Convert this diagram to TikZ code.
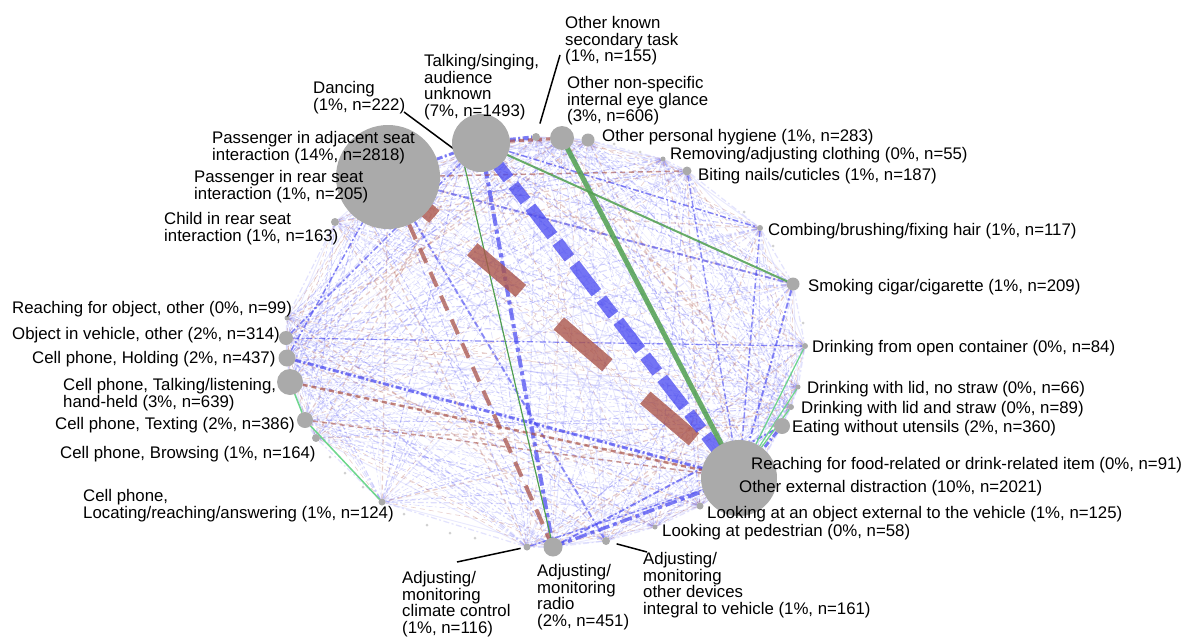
\documentclass[tikz,border=0pt]{standalone}
\usepackage{fontspec}
\setmainfont{Liberation Sans}
\usetikzlibrary{positioning}
\pgfdeclarelayer{edges}
\pgfsetlayers{edges,main}

\definecolor{nodegray}{RGB}{170,170,170}
\definecolor{edgeblue}{RGB}{70,70,240}
\definecolor{edgebrown}{RGB}{170,85,75}
\definecolor{edgegreen}{RGB}{80,160,80}
\definecolor{lightgreen}{RGB}{110,215,140}

\tikzset{
  distnode/.style={circle,fill=nodegray,inner sep=0pt,outer sep=0pt},
  tinydot/.style={circle,fill=nodegray!55,inner sep=0pt,minimum size=3pt},
  lbl/.style={font=\fontsize{16.8}{16.8}\selectfont,inner sep=0pt,anchor=base west},
  mlbl/.style={font=\fontsize{16.8}{16.8}\selectfont,inner sep=0pt,anchor=north west,align=left},
  leader/.style={draw=black,line width=1.5pt},
  bluedd/.style={draw=edgeblue,dash pattern=on 6pt off 2.5pt on 2pt off 2.5pt},
  browndash/.style={draw=edgebrown,dash pattern=on 5pt off 4pt},
  greenline/.style={draw=edgegreen}
}

\def\distlist{talking,otherknown,othernonspec,hygiene,removing,biting,combing,smoking,drinkopen,drinknostraw,drinkstraw,eating,reachfood,otherext,lookobject,pedestrian,otherdev,radio,climate,locating,browsing,texting,celltalk,holding,object,reachobject,child,passrear,passadj,dancing}

\begin{document}
\begin{tikzpicture}[x=1pt,y=-1pt]
  \useasboundingbox (0,0) rectangle (1185,637);

  % distraction types, placed on an ellipse, size ~ n
  \node[distnode,minimum size=10pt] (dancing) at (462,155) {};
  \node[distnode,minimum size=58pt] (talking) at (481,143) {};
  \node[distnode,minimum size=8pt] (otherknown) at (536,137) {};
  \node[distnode,minimum size=24pt] (othernonspec) at (562,138) {};
  \node[distnode,minimum size=13pt] (hygiene) at (588,140) {};
  \node[distnode,minimum size=5pt] (removing) at (663,159) {};
  \node[distnode,minimum size=9pt] (biting) at (687,171) {};
  \node[distnode,minimum size=6pt] (combing) at (760,228) {};
  \node[distnode,minimum size=13pt] (smoking) at (793,284) {};
  \node[distnode,minimum size=6pt] (drinkopen) at (805,346) {};
  \node[distnode,minimum size=5pt] (drinknostraw) at (798,387) {};
  \node[distnode,minimum size=6pt] (drinkstraw) at (791,407) {};
  \node[distnode,minimum size=16pt] (eating) at (782,426) {};
  \node[distnode,minimum size=8pt] (reachfood) at (758,468) {};
  \node[distnode,minimum size=76pt] (otherext) at (739,478) {};
  \node[distnode,minimum size=7pt] (lookobject) at (700,506) {};
  \node[distnode,minimum size=5pt] (pedestrian) at (655,527) {};
  \node[distnode,minimum size=8pt] (otherdev) at (606,541) {};
  \node[distnode,minimum size=19pt] (radio) at (553,547) {};
  \node[distnode,minimum size=7pt] (climate) at (527,547) {};
  \node[distnode,minimum size=7pt] (locating) at (382,502) {};
  \node[distnode,minimum size=8pt] (browsing) at (316,438) {};
  \node[distnode,minimum size=16pt] (texting) at (305,420) {};
  \node[distnode,minimum size=26pt] (celltalk) at (290,382) {};
  \node[distnode,minimum size=17pt] (holding) at (287,358) {};
  \node[distnode,minimum size=14pt] (object) at (286,338) {};
  \node[distnode,minimum size=5pt] (reachobject) at (287,318) {};
  \node[distnode,minimum size=8pt] (child) at (335,222) {};
  \node[distnode,minimum size=12pt] (passrear) at (362,205) {};
  \node[distnode,minimum size=104pt] (passadj) at (388,177) {};

  % small unlabelled ones
  \foreach \x/\y [count=\k] in {614/144,640/152,744/212,773/246,803/323,404/514,
      427/525,450/533,475/538,330/457,345/473,363/487}
    \node[tinydot] (u\k) at (\x,\y) {};

  \begin{pgfonlayer}{edges}
    % faint links between every pair
    \foreach \a [count=\i] in \distlist {
      \foreach \b [count=\j] in \distlist {
        \ifnum\i<\j
          \pgfmathtruncatemacro\pick{mod(\i*7+\j*11,6)}
          \pgfmathsetmacro\lw{0.35+0.3*mod(\i*5+\j*3,4)}
          \ifcase\pick
            \draw[bluedd,line width=\lw pt,draw opacity=.25] (\a) -- (\b);
          \or
            \draw[bluedd,line width=\lw pt,draw opacity=.18] (\a) -- (\b);
          \or
            \draw[bluedd,line width=\lw pt,draw opacity=.3] (\a) -- (\b);
          \or
            \draw[browndash,line width=\lw pt,draw opacity=.28] (\a) -- (\b);
          \or
            \draw[draw=edgeblue,line width=\lw pt,draw opacity=.12] (\a) -- (\b);
          \else
            \draw[bluedd,line width=\lw pt,draw opacity=.15] (\a) -- (\b);
          \fi
        \fi
      }
    }

    % stronger links
    \draw[bluedd,line width=1.5pt,draw opacity=.6] (talking) -- (combing);
    \draw[bluedd,line width=1.5pt,draw opacity=.6] (biting) -- (otherext);
    \draw[bluedd,line width=1.5pt,draw opacity=.6] (combing) -- (otherext);
    \draw[bluedd,line width=2pt,draw opacity=.6] (smoking) -- (otherext);
    \draw[bluedd,line width=2pt,draw opacity=.6] (passadj) -- (smoking);
    \draw[bluedd,line width=2pt,draw opacity=.6] (passadj) -- (otherdev);
    \draw[bluedd,line width=1.2pt,draw opacity=.6] (object) -- (drinkopen);
    \draw[bluedd,line width=1.5pt,draw opacity=.6] (object) -- (talking);
    \draw[bluedd,line width=1.5pt,draw opacity=.6] (holding) -- (passadj);
    \draw[bluedd,line width=1.5pt,draw opacity=.6] (climate) -- (otherext);
    \draw[bluedd,line width=2pt,draw opacity=.65] (radio) -- (eating);
    \draw[bluedd,line width=3pt,draw opacity=.7] (holding) -- (otherext);
    \draw[bluedd,line width=3pt,draw opacity=.7] (eating) -- (otherext);
    \draw[bluedd,line width=3pt,draw opacity=.7] (passadj) -- (talking);
    \draw[bluedd,line width=4pt,draw opacity=.7] (talking) -- (otherknown);
    \draw[bluedd,line width=3.5pt,draw opacity=.7,dash pattern=on 12pt off 4pt on 4pt off 4pt] (radio.center) -- (otherext.center);
    \draw[bluedd,line width=4pt,draw opacity=.7,dash pattern=on 12pt off 4pt on 4pt off 4pt] (talking.center) -- (radio.center);
    \draw[browndash,line width=1.5pt,draw opacity=.6] (passadj) -- (biting);
    \draw[browndash,line width=1.5pt,draw opacity=.6] (texting) -- (otherext);
    \draw[browndash,line width=2.5pt,draw opacity=.7] (celltalk) -- (otherext);
    \draw[browndash,line width=3pt,draw opacity=.7] (talking) -- (othernonspec);
    \draw[browndash,line width=4pt,draw opacity=.75,dash pattern=on 16pt off 10pt] (passadj.center) -- (radio.center);
    \draw[lightgreen,line width=1.5pt] (celltalk) -- (texting);
    \draw[lightgreen,line width=1.5pt] (texting) -- (locating);
    \draw[lightgreen,line width=1.2pt] (drinkopen) -- (otherext);
    \draw[lightgreen,line width=1.2pt] (drinknostraw) -- (otherext);
    \draw[lightgreen,line width=1.2pt] (drinkstraw) -- (otherext);
    \draw[greenline,line width=1.2pt] (dancing.center) -- (radio.center);
    \draw[greenline,line width=2pt,draw opacity=.85] (talking.center) -- (smoking.center);

    % the three heaviest links
    \draw[browndash,line width=16pt,draw opacity=.8,dash pattern=on 64pt off 50pt,dash phase=3pt] (passadj.center) -- (otherext.center);
    \draw[bluedd,line width=12pt,draw opacity=.75,dash pattern=on 36pt off 8pt on 20pt off 8pt,dash phase=63pt] (talking.center) -- (otherext.center);
    \draw[greenline,line width=5pt,draw opacity=.85] (othernonspec.center) -- (otherext.center);

    % leader lines
    \coordinate (dancetip) at (404,112);
    \coordinate (knowntip) at (560,55);
    \coordinate (climatetip) at (457,562);
    \coordinate (devtip) at (647,552);
    \draw[leader] (dancetip) -- (dancing);
    \draw[leader,shorten >=10pt] (knowntip) -- (otherknown);
    \draw[leader,shorten >=3pt] (climatetip) -- (climate);
    \draw[leader,shorten >=7pt] (devtip) -- (otherdev);
  \end{pgfonlayer}

  % labels
  \node[mlbl] (l-known) at (565,16) {Other known\\secondary task\\(1\%, n=155)};
  \node[mlbl] (l-talking) at (424,54) {Talking/singing,\\audience\\unknown\\(7\%, n=1493)};
  \node[mlbl] (l-dancing) at (313,81) {Dancing\\(1\%, n=222)};
  \node[mlbl] (l-nonspec) at (567,76) {Other non-specific\\internal eye glance\\(3\%, n=606)};
  \node[mlbl] (l-passadj) at (212,131) {Passenger in adjacent seat\\interaction (14\%, n=2818)};
  \node[mlbl] (l-passrear) at (194,170) {Passenger in rear seat\\interaction (1\%, n=205)};
  \node[mlbl] (l-child) at (164,212) {Child in rear seat\\interaction (1\%, n=163)};
  \node[lbl] (l-hygiene) at (602,141) {Other personal hygiene (1\%, n=283)};
  \node[lbl] (l-removing) at (670,159) {Removing/adjusting clothing (0\%, n=55)};
  \node[lbl] (l-biting) at (698,180) {Biting nails/cuticles (1\%, n=187)};
  \node[lbl] (l-combing) at (768,235) {Combing/brushing/fixing hair (1\%, n=117)};
  \node[lbl] (l-smoking) at (808,291) {Smoking cigar/cigarette (1\%, n=209)};
  \node[lbl] (l-drinkopen) at (812,352) {Drinking from open container (0\%, n=84)};
  \node[lbl] (l-nostraw) at (807,393) {Drinking with lid, no straw (0\%, n=66)};
  \node[lbl] (l-straw) at (801,413) {Drinking with lid and straw (0\%, n=89)};
  \node[lbl] (l-eating) at (792,432) {Eating without utensils (2\%, n=360)};
  \node[lbl] (l-reachfood) at (751,469) {Reaching for food-related or drink-related item (0\%, n=91)};
  \node[lbl] (l-otherext) at (739,492) {Other external distraction (10\%, n=2021)};
  \node[lbl] (l-lookobj) at (707,518) {Looking at an object external to the vehicle (1\%, n=125)};
  \node[lbl] (l-pedestrian) at (662,536) {Looking at pedestrian (0\%, n=58)};
  \node[mlbl] (l-otherdev) at (643,552) {Adjusting/\\monitoring\\other devices\\integral to vehicle (1\%, n=161)};
  \node[mlbl] (l-radio) at (537,564) {Adjusting/\\monitoring\\radio\\(2\%, n=451)};
  \node[mlbl] (l-climate) at (402,571) {Adjusting/\\monitoring\\climate control\\(1\%, n=116)};
  \node[mlbl] (l-locating) at (83,489) {Cell phone,\\Locating/reaching/answering (1\%, n=124)};
  \node[lbl] (l-browsing) at (60,458) {Cell phone, Browsing (1\%, n=164)};
  \node[lbl] (l-texting) at (55,429) {Cell phone, Texting (2\%, n=386)};
  \node[mlbl] (l-celltalk) at (63,378) {Cell phone, Talking/listening,\\hand-held (3\%, n=639)};
  \node[lbl] (l-holding) at (32,363) {Cell phone, Holding (2\%, n=437)};
  \node[lbl] (l-object) at (12,339) {Object in vehicle, other (2\%, n=314)};
  \node[lbl] (l-reachobj) at (12,313) {Reaching for object, other (0\%, n=99)};
\end{tikzpicture}
\end{document}
